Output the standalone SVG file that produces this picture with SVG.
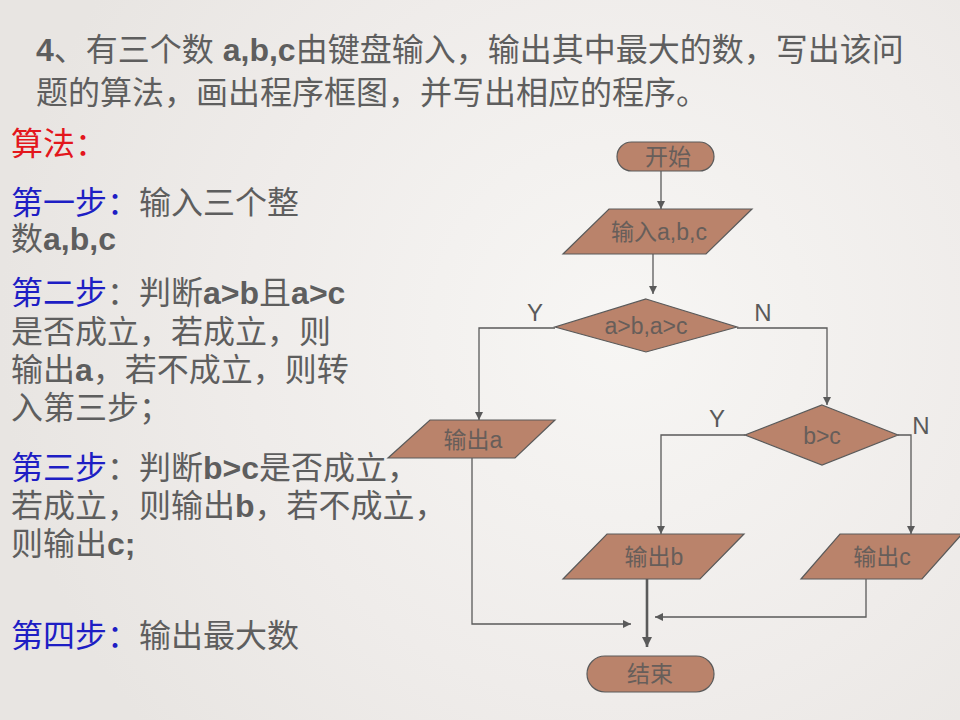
<svg xmlns="http://www.w3.org/2000/svg" width="960" height="720" viewBox="0 0 960 720">
<defs>
<radialGradient id="bg" cx="620" cy="330" r="620" gradientUnits="userSpaceOnUse">
<stop offset="0" stop-color="#F7F6F4"/>
<stop offset="0.6" stop-color="#EFECEA"/>
<stop offset="1" stop-color="#E8E5E2"/>
</radialGradient>
<marker id="arr" viewBox="0 0 10 10" refX="10" refY="5" markerWidth="8" markerHeight="8" markerUnits="userSpaceOnUse" orient="auto">
<path d="M0,0 L10,5 L0,10 z" fill="#5A5A5A"/>
</marker>
<marker id="arr2" viewBox="0 0 10 10" refX="10" refY="5" markerWidth="10" markerHeight="10" markerUnits="userSpaceOnUse" orient="auto">
<path d="M0,0 L10,5 L0,10 z" fill="#5A5A5A"/>
</marker>
</defs>
<style>
.t{font-family:"Liberation Sans","Noto Sans CJK SC",sans-serif;font-size:32px;fill:#5E5E5E}
.b{font-weight:bold}
.red{fill:#E3161C}
.blue{fill:#1E1EC4}
.node{fill:#BA836B;stroke:#5A5A5A;stroke-width:1.2}
.nt{font-family:"Liberation Sans","Noto Sans CJK SC",sans-serif;font-size:23px;fill:#675E5A;text-anchor:middle;dominant-baseline:central}
.lbl{font-family:"Liberation Sans",sans-serif;font-size:24px;fill:#5A5A5A;text-anchor:middle;dominant-baseline:central}
.c{fill:none;stroke:#5A5A5A;stroke-width:1.3}
.thick{stroke-width:2.6}
</style>
<rect x="0" y="0" width="960" height="720" fill="url(#bg)"/>

<g id="title">
<text class="t" x="36" y="61"><tspan class="b">4</tspan>、有三个数 <tspan class="b">a,b,c</tspan>由键盘输入，输出其中最大的数，写出该问</text>
<text class="t" x="36" y="104">题的算法，画出程序框图，并写出相应的程序。</text>
</g>

<g id="algorithm">
<text class="t red" x="11" y="155">算法：</text>
<text class="t" x="11" y="214"><tspan class="blue">第一步：</tspan>输入三个整</text>
<text class="t" x="11" y="250">数<tspan class="b">a,b,c</tspan></text>
<text class="t" x="11" y="304"><tspan class="blue">第二步</tspan>：判断<tspan class="b">a&gt;b</tspan>且<tspan class="b">a&gt;c</tspan></text>
<text class="t" x="11" y="343">是否成立，若成立，则</text>
<text class="t" x="11" y="381">输出<tspan class="b">a</tspan>，若不成立，则转</text>
<text class="t" x="11" y="419">入第三步；</text>
<text class="t" x="11" y="479"><tspan class="blue">第三步</tspan>：判断<tspan class="b">b&gt;c</tspan>是否成立，</text>
<text class="t" x="11" y="517">若成立，则输出<tspan class="b">b</tspan>，若不成立，</text>
<text class="t" x="11" y="555">则输出<tspan class="b">c;</tspan></text>
<text class="t" x="11" y="647"><tspan class="blue">第四步：</tspan>输出最大数</text>
</g>

<g id="connectors">
<path class="c" d="M661,171 V209" marker-end="url(#arr)"/>
<path class="c" d="M653,254 V294" marker-end="url(#arr)"/>
<path class="c" d="M555,328 H479 V420" marker-end="url(#arr)"/>
<path class="c" d="M737,328 H827 V405" marker-end="url(#arr)"/>
<path class="c" d="M745,435 H661 V534" marker-end="url(#arr)"/>
<path class="c" d="M898,435 H911 V534" marker-end="url(#arr)"/>
<path class="c" d="M472,458 V624 H631" marker-end="url(#arr)"/>
<path class="c" d="M866,579 V617 H655" marker-end="url(#arr)"/>
<path class="c thick" d="M647,579 V647" marker-end="url(#arr2)"/>
<text class="lbl" x="535" y="312">Y</text>
<text class="lbl" x="763" y="312">N</text>
<text class="lbl" x="717" y="418">Y</text>
<text class="lbl" x="921" y="425">N</text>
</g>

<g id="start">
<rect class="node" x="617" y="142" width="97" height="29" rx="14.5"/>
<text class="nt" x="668" y="157">开始</text>
</g>
<g id="input">
<polygon class="node" points="609,209 752,209 706,254 563,254"/>
<text class="nt" x="659" y="232">输入a,b,c</text>
</g>
<g id="cond1">
<polygon class="node" points="646,299 737,327 646,352 555,327"/>
<text class="nt" x="646" y="326">a&gt;b,a&gt;c</text>
</g>
<g id="outa">
<polygon class="node" points="430,420 555,420 515,458 388,458"/>
<text class="nt" x="473" y="440">输出a</text>
</g>
<g id="cond2">
<polygon class="node" points="822,405 898,435 822,465 745,435"/>
<text class="nt" x="822" y="436">b&gt;c</text>
</g>
<g id="outb">
<polygon class="node" points="607,534 744,534 700,579 563,579"/>
<text class="nt" x="654" y="557">输出b</text>
</g>
<g id="outc">
<polygon class="node" points="840,534 962,534 922,579 801,579"/>
<text class="nt" x="882" y="557">输出c</text>
</g>
<g id="end">
<rect class="node" x="587" y="656" width="127" height="36" rx="18"/>
<text class="nt" x="650" y="674">结束</text>
</g>
</svg>
